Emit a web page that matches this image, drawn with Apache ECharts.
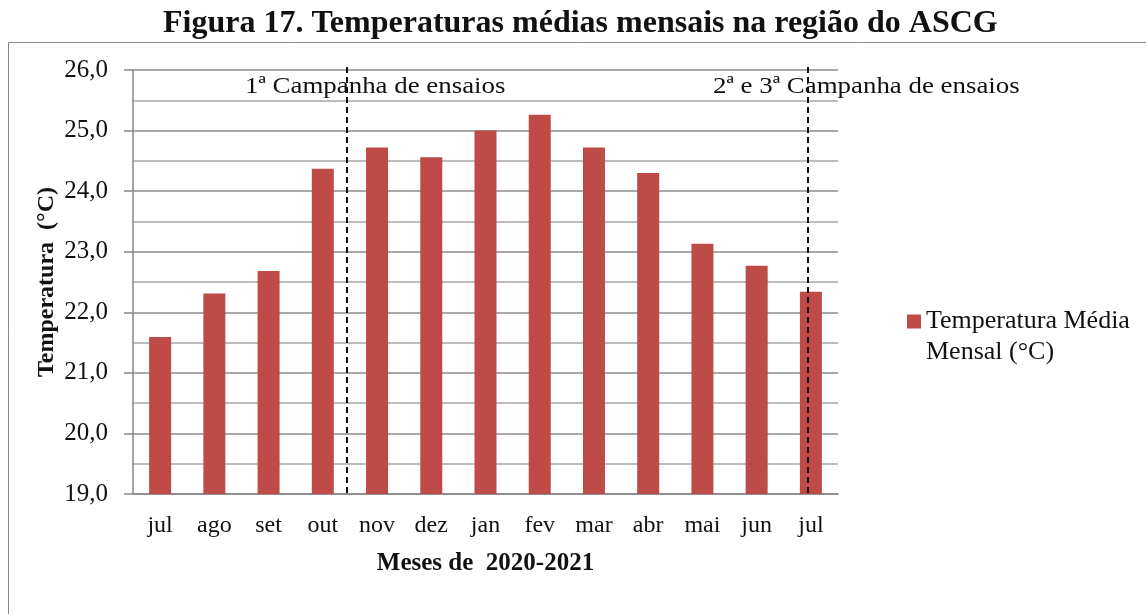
<!DOCTYPE html>
<html>
<head>
<meta charset="utf-8">
<script src="https://cdn.jsdelivr.net/npm/echarts@6/dist/echarts.min.js"></script>
<style>
  html, body { margin: 0; padding: 0; background: #fff; }
  #chart { width: 1146px; height: 614px; }
</style>
</head>
<body>
<div id="chart"></div>
<script>
var months = ['jul', 'ago', 'set', 'out', 'nov', 'dez', 'jan', 'fev', 'mar', 'abr', 'mai', 'jun', 'jul'];
var tempMedia = [21.59, 22.31, 22.68, 24.37, 24.72, 24.56, 25.0, 25.26, 24.72, 24.3, 23.13, 22.77, 22.34];
// position of the campaign lines, in month units from the left edge of the plot
var campanhas = [3.95, 12.45];
var campanhaLabels = ['1ª Campanha de ensaios', '2ª e 3ª Campanha de ensaios'];
var serieNome = 'Temperatura Média Mensal (°C)';

var serif = '"Liberation Serif", "Times New Roman", serif';
var chart = echarts.init(document.getElementById('chart'));

var option = {
  animation: false,
  textStyle: { fontFamily: serif },
  title: {
    text: 'Figura 17. Temperaturas médias mensais na região do ASCG',
    left: 158,
    top: 3,
    textStyle: { fontFamily: serif, fontWeight: 'bold', fontSize: 32, color: '#111' }
  },
  grid: { left: 133, right: 308, top: 70, bottom: 120 },
  legend: {
    data: [serieNome],
    orient: 'vertical',
    left: 902,
    top: 301,
    itemWidth: 14,
    itemHeight: 45,
    icon: 'path://M0,0h14v14h-14z M0,44.9h0.1v0.1h-0.1z',
    textStyle: { fontFamily: serif, fontSize: 26, color: '#111', lineHeight: 31 },
    formatter: function (n) { return n.replace(' Mensal', '\nMensal'); }
  },
  graphic: [
    { type: 'rect', shape: { x: 8.5, y: 42.5, width: 1150, height: 600 },
      style: { fill: 'none', stroke: '#8a8a8a', lineWidth: 1 } },
    { type: 'text', x: 245, y: 87, scaleX: 1.12,
      style: { text: campanhaLabels[0], font: '24px ' + serif, fill: '#111', verticalAlign: 'middle' } },
    { type: 'text', x: 713, y: 87, scaleX: 1.12,
      style: { text: campanhaLabels[1], font: '24px ' + serif, fill: '#111', verticalAlign: 'middle' } }
  ],
  xAxis: [{
    type: 'category',
    data: months,
    name: 'Meses de  2020-2021',
    nameLocation: 'middle',
    nameGap: 57,
    nameMoveOverlap: false,
    nameTextStyle: { fontFamily: serif, fontWeight: 'bold', fontSize: 25, color: '#111' },
    axisLine: { lineStyle: { color: '#868686', width: 1.5 } },
    axisTick: { length: 9, lineStyle: { color: '#868686', width: 1.5 } },
    axisLabel: { fontFamily: serif, fontSize: 24, color: '#111', margin: 20 }
  }, {
    type: 'value',
    min: 0,
    max: months.length,
    show: false
  }],
  yAxis: {
    type: 'value',
    min: 19,
    max: 26,
    interval: 1,
    name: 'Temperatura  (°C)',
    nameLocation: 'middle',
    nameGap: 74,
    nameMoveOverlap: false,
    nameTextStyle: { fontFamily: serif, fontWeight: 'bold', fontSize: 24, color: '#111' },
    axisLine: { show: true, lineStyle: { color: '#868686', width: 1.5 } },
    axisTick: { show: true, length: 9, lineStyle: { color: '#868686', width: 1.5 } },
    axisLabel: {
      fontFamily: serif, fontSize: 25, color: '#111', margin: 25,
      formatter: function (v) { return v.toFixed(1).replace('.', ','); }
    },
    splitLine: { lineStyle: { color: '#8c8c8c', width: 1.5 } },
    minorTick: { show: false, splitNumber: 2 },
    minorSplitLine: { show: true, lineStyle: { color: '#a6a6a6', width: 1.5 } }
  },
  series: [{
    name: serieNome,
    type: 'bar',
    data: tempMedia,
    barWidth: 22,
    itemStyle: { color: '#BE4B48' }
  }, {
    name: 'campanhas',
    type: 'scatter',
    xAxisIndex: 1,
    data: [],
    silent: true,
    markLine: {
      silent: true,
      symbol: 'none',
      label: { show: false },
      lineStyle: { color: '#111', type: [6, 4], width: 2 },
      data: campanhas.map(function (c) {
        return [{ xAxis: c, y: 67 }, { xAxis: c, yAxis: 19 }];
      })
    }
  }]
};

chart.setOption(option);
</script>
</body>
</html>
